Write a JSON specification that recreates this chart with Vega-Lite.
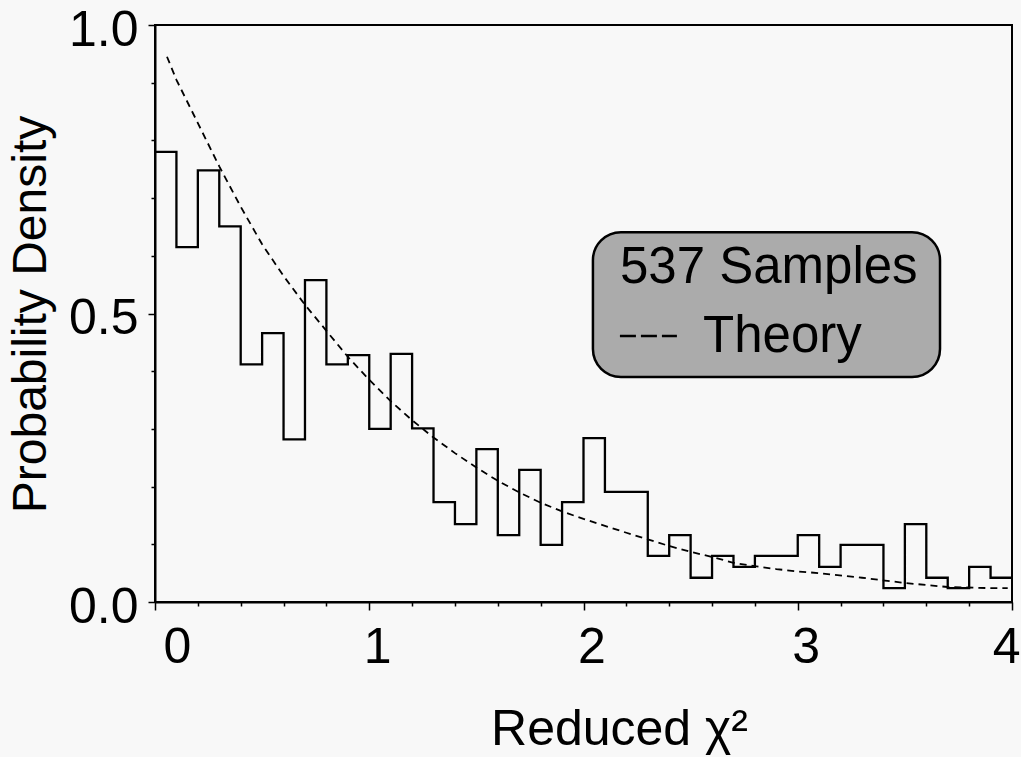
{
  "$schema": "https://vega.github.io/schema/vega-lite/v6.json",
  "autosize": "none",
  "width": 857,
  "height": 577,
  "padding": {"left": 155, "top": 25, "right": 9, "bottom": 155},
  "background": "#f8f8f8",
  "datasets": {
    "hist": [
      {"bin_start": 0.0, "density": 0.78},
      {"bin_start": 0.1, "density": 0.615},
      {"bin_start": 0.2, "density": 0.748},
      {"bin_start": 0.3, "density": 0.651},
      {"bin_start": 0.4, "density": 0.412},
      {"bin_start": 0.5, "density": 0.466},
      {"bin_start": 0.6, "density": 0.282},
      {"bin_start": 0.7, "density": 0.558},
      {"bin_start": 0.8, "density": 0.412},
      {"bin_start": 0.9, "density": 0.428},
      {"bin_start": 1.0, "density": 0.300},
      {"bin_start": 1.1, "density": 0.430},
      {"bin_start": 1.2, "density": 0.301},
      {"bin_start": 1.3, "density": 0.173},
      {"bin_start": 1.4, "density": 0.135},
      {"bin_start": 1.5, "density": 0.265},
      {"bin_start": 1.6, "density": 0.116},
      {"bin_start": 1.7, "density": 0.229},
      {"bin_start": 1.8, "density": 0.099},
      {"bin_start": 1.9, "density": 0.173},
      {"bin_start": 2.0, "density": 0.284},
      {"bin_start": 2.1, "density": 0.191},
      {"bin_start": 2.2, "density": 0.191},
      {"bin_start": 2.3, "density": 0.080},
      {"bin_start": 2.4, "density": 0.116},
      {"bin_start": 2.5, "density": 0.042},
      {"bin_start": 2.6, "density": 0.080},
      {"bin_start": 2.7, "density": 0.061},
      {"bin_start": 2.8, "density": 0.080},
      {"bin_start": 2.9, "density": 0.080},
      {"bin_start": 3.0, "density": 0.116},
      {"bin_start": 3.1, "density": 0.061},
      {"bin_start": 3.2, "density": 0.099},
      {"bin_start": 3.3, "density": 0.099},
      {"bin_start": 3.4, "density": 0.024},
      {"bin_start": 3.5, "density": 0.135},
      {"bin_start": 3.6, "density": 0.042},
      {"bin_start": 3.7, "density": 0.024},
      {"bin_start": 3.8, "density": 0.061},
      {"bin_start": 3.9, "density": 0.042},
      {"bin_start": 4.0, "density": 0.042}
    ],
    "theory": [
      {"chi2": 0.056, "density": 0.945},
      {"chi2": 0.1, "density": 0.905},
      {"chi2": 0.2, "density": 0.83},
      {"chi2": 0.3, "density": 0.755},
      {"chi2": 0.4, "density": 0.685},
      {"chi2": 0.5, "density": 0.62},
      {"chi2": 0.6, "density": 0.565},
      {"chi2": 0.7, "density": 0.515},
      {"chi2": 0.8, "density": 0.47},
      {"chi2": 0.9, "density": 0.425},
      {"chi2": 1.0, "density": 0.385},
      {"chi2": 1.1, "density": 0.348},
      {"chi2": 1.2, "density": 0.315},
      {"chi2": 1.3, "density": 0.285},
      {"chi2": 1.4, "density": 0.258},
      {"chi2": 1.5, "density": 0.233},
      {"chi2": 1.6, "density": 0.21},
      {"chi2": 1.7, "density": 0.19},
      {"chi2": 1.8, "density": 0.172},
      {"chi2": 1.9, "density": 0.157},
      {"chi2": 2.0, "density": 0.144},
      {"chi2": 2.2, "density": 0.12},
      {"chi2": 2.4, "density": 0.097},
      {"chi2": 2.5, "density": 0.087},
      {"chi2": 2.6, "density": 0.078},
      {"chi2": 2.7, "density": 0.068},
      {"chi2": 2.8, "density": 0.062},
      {"chi2": 2.9, "density": 0.057},
      {"chi2": 3.0, "density": 0.053},
      {"chi2": 3.1, "density": 0.05},
      {"chi2": 3.3, "density": 0.042},
      {"chi2": 3.5, "density": 0.033},
      {"chi2": 3.7, "density": 0.026},
      {"chi2": 3.9, "density": 0.024},
      {"chi2": 3.98, "density": 0.024}
    ]
  },
  "config": {
    "view": {"stroke": "black", "strokeWidth": 2},
    "axis": {
      "grid": false,
      "domainColor": "black",
      "domainWidth": 2,
      "tickColor": "black",
      "tickWidth": 1.5,
      "labelFont": "Liberation Sans",
      "labelColor": "black",
      "labelFontSize": 50,
      "labelOverlap": false,
      "titleFont": "Liberation Sans",
      "titleColor": "black",
      "titleFontWeight": "normal"
    }
  },
  "layer": [
    {
      "data": {"name": "hist"},
      "mark": {"type": "line", "interpolate": "step-after", "color": "black", "strokeWidth": 2.3},
      "encoding": {
        "x": {
          "field": "bin_start",
          "type": "quantitative",
          "scale": {"domain": [0, 4], "nice": false},
          "axis": {
            "values": [0, 0.2, 0.4, 0.6, 0.8, 1, 1.2, 1.4, 1.6, 1.8, 2, 2.2, 2.4, 2.6, 2.8, 3, 3.2, 3.4, 3.6, 3.8, 4],
            "tickSize": 8,
            "tickDash": {"condition": {"test": "abs(datum.value - round(datum.value)) < 0.001", "value": [100, 1]}, "value": [4, 100]},
            "labelExpr": "abs(datum.value - round(datum.value)) < 0.001 ? format(datum.value, 'd') : ''",
            "labelPadding": 12,
            "labelOffset": 8,
            "title": "Reduced χ²",
            "titleFontSize": 50,
            "titleX": 464,
            "titleY": 142,
            "titleBaseline": "alphabetic",
            "titleAlign": "center"
          }
        },
        "y": {
          "field": "density",
          "type": "quantitative",
          "scale": {"domain": [0, 1], "nice": false},
          "axis": {
            "values": [0, 0.1, 0.2, 0.3, 0.4, 0.5, 0.6, 0.7, 0.8, 0.9, 1.0],
            "tickSize": 7,
            "tickDash": {"condition": {"test": "abs(datum.value * 2 - round(datum.value * 2)) < 0.001", "value": [100, 1]}, "value": [4, 100]},
            "labelExpr": "abs(datum.value * 2 - round(datum.value * 2)) < 0.001 ? format(datum.value, '.1f') : ''",
            "labelPadding": 10,
            "labelOffset": 5,
            "labelBaseline": "middle",
            "title": "Probability Density",
            "titleFontSize": 48,
            "titleX": -110,
            "titleY": 289,
            "titleAngle": 270,
            "titleBaseline": "alphabetic",
            "titleAlign": "center"
          }
        }
      }
    },
    {
      "data": {"name": "theory"},
      "mark": {"type": "line", "color": "black", "strokeWidth": 1.8, "strokeDash": [7, 5]},
      "encoding": {
        "x": {"field": "chi2", "type": "quantitative"},
        "y": {"field": "density", "type": "quantitative"}
      }
    },
    {
      "data": {"values": [{}]},
      "mark": {"type": "rect", "fill": "#ababab", "stroke": "black", "strokeWidth": 2.5, "cornerRadius": 28},
      "encoding": {
        "x": {"datum": 2.044, "type": "quantitative"},
        "x2": {"datum": 3.664},
        "y": {"datum": 0.641, "type": "quantitative"},
        "y2": {"datum": 0.39}
      }
    },
    {
      "data": {"values": [{}]},
      "mark": {"type": "text", "text": "537 Samples", "font": "Liberation Sans", "fontSize": 51, "align": "left", "baseline": "alphabetic", "color": "black"},
      "encoding": {
        "x": {"datum": 2.17, "type": "quantitative"},
        "y": {"datum": 0.553, "type": "quantitative"}
      }
    },
    {
      "data": {"values": [{}]},
      "mark": {"type": "rule", "color": "black", "strokeWidth": 2.5, "strokeDash": [16, 5]},
      "encoding": {
        "x": {"datum": 2.17, "type": "quantitative"},
        "x2": {"datum": 2.436},
        "y": {"datum": 0.461, "type": "quantitative"}
      }
    },
    {
      "data": {"values": [{}]},
      "mark": {"type": "text", "text": "Theory", "font": "Liberation Sans", "fontSize": 51, "align": "left", "baseline": "alphabetic", "color": "black"},
      "encoding": {
        "x": {"datum": 2.558, "type": "quantitative"},
        "y": {"datum": 0.433, "type": "quantitative"}
      }
    }
  ]
}
